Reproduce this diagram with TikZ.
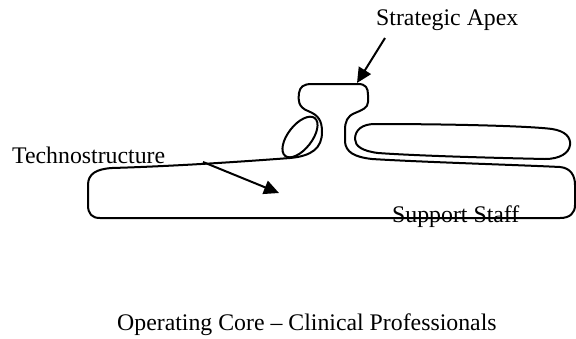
\documentclass[tikz,border=0pt]{standalone}
\usepackage{fontspec}
\setmainfont{Liberation Serif}
\usetikzlibrary{arrows.meta}
\begin{document}
\begin{tikzpicture}[x=1bp,y=-1bp,
  outline/.style={line width=2bp, line join=round, line cap=round},
  pointer/.style={line width=2bp, -{Triangle[length=15bp,width=14bp]}},
  lbl/.style={inner sep=0pt, anchor=base west, font=\fontsize{23.8bp}{28bp}\selectfont}]
\useasboundingbox (0,0) rectangle (576,338);

% main outline: body, neck and head
\draw[outline] (112,168)
  .. controls (180,166) and (250,161) .. (290,158)
  .. controls (312,156) and (322,148) .. (322,132)
  .. controls (322,120) and (318,115) .. (308,111)
  .. controls (298,107) and (298,100) .. (299,93)
  .. controls (300,87) and (303,84) .. (312,84)
  -- (358,84)
  .. controls (366,84) and (368,88) .. (368,95)
  -- (368,102)
  .. controls (368,108) and (362,110) .. (355,113)
  .. controls (347,116) and (345,122) .. (345,130)
  -- (345,142)
  .. controls (346,152) and (354,157) .. (372,159)
  .. controls (420,162) and (520,165) .. (560,167)
  .. controls (571,168) and (575,176) .. (575,185)
  -- (575,205)
  .. controls (575,213) and (570,218) .. (560,218)
  -- (100,218)
  .. controls (92,218) and (88,214) .. (88,205)
  -- (88,185)
  .. controls (88,174) and (96,169) .. (112,168) -- cycle;

% small ellipse left of neck
\coordinate (ell) at (300,137);
\draw[outline, rotate around={52:(ell)}] (ell) ellipse [x radius=24bp, y radius=12bp];

% elongated loop right of neck
\draw[outline] (375,124)
  .. controls (450,124) and (530,126) .. (552,129)
  .. controls (565,131) and (571,137) .. (570,145)
  .. controls (569,153) and (560,159) .. (545,159)
  .. controls (500,158) and (420,156) .. (378,153)
  .. controls (362,151) and (355,146) .. (355,139)
  .. controls (355,130) and (362,124) .. (375,124) -- cycle;

% labels
\node[lbl] (apex) at (376,25) {Strategic Apex};
\node[lbl] (techno) at (12,163) {Technostructure};
\node[lbl] (support) at (392,222) {Support Staff};
\node[lbl] (core) at (117,330) {Operating Core -- Clinical Professionals};

% arrows
\coordinate (apexStart) at (385,38);
\coordinate (apexTip) at (357,83);
\draw[pointer] (apexStart) -- (apexTip);
\coordinate (technoStart) at (203,162);
\coordinate (technoTip) at (279,193);
\draw[pointer] (technoStart) -- (technoTip);
\end{tikzpicture}
\end{document}
